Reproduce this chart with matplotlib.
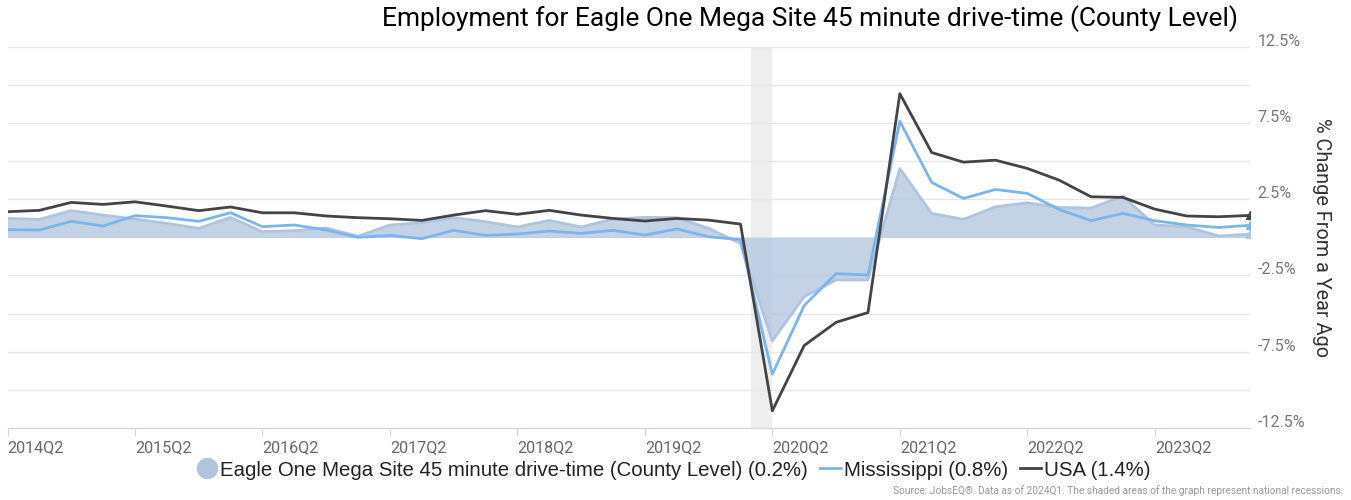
#!/usr/bin/env python3
"""Employment change chart: Eagle One Mega Site 45 minute drive-time vs Mississippi vs USA."""
import matplotlib
matplotlib.use("Agg")
import matplotlib.pyplot as plt
import matplotlib.transforms as mtransforms
from matplotlib.lines import Line2D

plt.rcParams["font.family"] = ["Roboto", "DejaVu Sans"]

# ---------------------------------------------------------------------------
# Data (% change from a year ago, 2014Q2 .. 2024Q1)
# ---------------------------------------------------------------------------
quarters = [f"{y}Q{q}" for y in range(2014, 2025) for q in range(1, 5)][1:41]

eagle = [1.24, 1.18, 1.75, 1.46, 1.20, 0.92, 0.59, 1.31, 0.37, 0.44,
         0.61, 0.07, 0.81, 0.96, 1.29, 1.03, 0.68, 1.11, 0.68, 1.20,
         1.31, 1.29, 0.59, -0.40, -6.79, -3.89, -2.79, -2.79, 4.51, 1.57,
         1.18, 2.00, 2.27, 1.96, 1.92, 2.70, 0.81, 0.70, 0.09, 0.22]

mississippi = [0.50, 0.48, 1.05, 0.74, 1.42, 1.29, 1.05, 1.61, 0.70, 0.81,
               0.48, 0.00, 0.13, -0.09, 0.46, 0.13, 0.22, 0.41, 0.26, 0.46,
               0.15, 0.55, 0.04, -0.15, -8.97, -4.47, -2.38, -2.47, 7.61, 3.60,
               2.55, 3.14, 2.88, 1.83, 1.09, 1.57, 1.09, 0.81, 0.65, 0.79]

usa = [1.68, 1.77, 2.29, 2.16, 2.33, 2.05, 1.75, 1.99, 1.61, 1.61,
       1.40, 1.29, 1.22, 1.11, 1.46, 1.75, 1.51, 1.77, 1.46, 1.24,
       1.07, 1.24, 1.13, 0.87, -11.37, -7.09, -5.57, -4.93, 9.42, 5.56,
       4.93, 5.06, 4.52, 3.75, 2.66, 2.62, 1.85, 1.40, 1.35, 1.44]

series_names = [
    "Eagle One Mega Site 45 minute drive-time (County Level) (0.2%)",
    "Mississippi (0.8%)",
    "USA (1.4%)",
]

# recession: Feb 2020 - Apr 2020, in quarter-index units
recession = (23.33, 24.0)

y_ticks = [-12.5, -10, -7.5, -5, -2.5, 0, 2.5, 5, 7.5, 10, 12.5]
y_labels = ["-12.5%", "", "-7.5%", "", "-2.5%", "", "2.5%", "", "7.5%", "", "12.5%"]

EAGLE_COLOR = "#b0c4de"
MS_COLOR = "#7cb5ec"
USA_COLOR = "#434348"
GRID_COLOR = "#e6e6e6"
AXIS_COLOR = "#ccd6eb"
TICK_TEXT = "#666666"

W, H = 1351, 500


def main() -> None:
    fig = plt.figure(figsize=(W / 100, H / 100), dpi=100)
    fig.patch.set_facecolor("white")
    ax = fig.add_axes([7.5 / W, 1 - 428 / H, (1250.4 - 7.5) / W, (428 - 46.7) / H])
    ax.set_facecolor("white")

    x = list(range(len(quarters)))

    # recession band
    ax.axvspan(*recession, color="#eeeeee", lw=0, zorder=0)

    # grid
    for v in y_ticks:
        ax.axhline(v, color=GRID_COLOR, lw=1, zorder=0.5)

    # area series + lines, triangle marker on the last point
    ax.fill_between(x, eagle, 0, color=EAGLE_COLOR, alpha=0.75, lw=0, zorder=1)
    ax.plot(x, eagle, color=EAGLE_COLOR, lw=2, zorder=1.5,
            marker="^", markevery=[len(x) - 1], markersize=6)
    ax.plot(x, mississippi, color=MS_COLOR, lw=2, zorder=2,
            marker="^", markevery=[len(x) - 1], markersize=6)
    ax.plot(x, usa, color=USA_COLOR, lw=2, zorder=3,
            marker="^", markevery=[len(x) - 1], markersize=6)

    ax.set_xlim(0, len(x) - 1)
    ax.set_ylim(-12.5, 12.5)

    # x axis
    xt = list(range(0, len(x), 4))
    ax.set_xticks(xt)
    ax.set_xticklabels([quarters[i] for i in xt], fontsize=11.6, color=TICK_TEXT, ha="left")
    ax.tick_params(axis="x", length=6, color=AXIS_COLOR, pad=3)

    # y axis on the right
    ax.yaxis.tick_right()
    ax.set_yticks(y_ticks)
    ax.set_yticklabels(y_labels, fontsize=11.5, color="#777777")
    ax.tick_params(axis="y", length=0, pad=5)
    off = mtransforms.ScaledTranslation(0, 7 / 100, fig.dpi_scale_trans)
    for lab in ax.get_yticklabels():
        lab.set_transform(lab.get_transform() + off)

    for sp in ("top", "right", "left"):
        ax.spines[sp].set_visible(False)
    ax.spines["bottom"].set_color(AXIS_COLOR)
    ax.spines["bottom"].set_zorder(4)

    fig.text(1322 / W, 1 - 237 / H, "% Change From a Year Ago", rotation=270,
             ha="center", va="center", fontsize=14.3, color="#333333")

    # title
    fig.text(810 / W, 1 - 19 / H,
             "Employment for Eagle One Mega Site 45 minute drive-time (County Level)",
             ha="center", va="center", fontsize=19, color="#000000")

    # legend
    handles = [
        Line2D([], [], ls="none", marker="o", markersize=14.4, color=EAGLE_COLOR),
        Line2D([], [], color=MS_COLOR, lw=2),
        Line2D([], [], color=USA_COLOR, lw=2),
    ]
    fig.legend(handles, series_names, loc="center", ncol=3, frameon=False,
               bbox_to_anchor=(673.5 / W, 1 - 470 / H),
               prop={"family": ["Liberation Sans", "DejaVu Sans"], "size": 14.7},
               handlelength=1.0, handletextpad=0.15, columnspacing=0.6,
               labelcolor="#222222", borderpad=0.2)

    # source
    fig.text(1343 / W, 1 - 491 / H,
             "Source: JobsEQ\u00ae. Data as of 2024Q1. The shaded areas of the graph "
             "represent national recessions.",
             ha="right", va="center", fontsize=7.3, color="#999999")

    fig.savefig("out.png", dpi=100, facecolor="white")
    plt.close(fig)


if __name__ == "__main__":
    main()
